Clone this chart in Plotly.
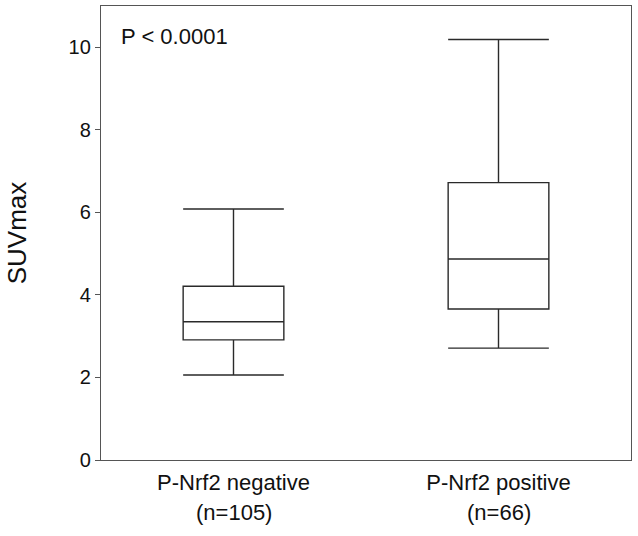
import plotly.graph_objects as go

categories = ["P-Nrf2 negative", "P-Nrf2 positive"]
n_labels = ["(n=105)", "(n=66)"]
q1 = [2.91, 3.66]
median = [3.35, 4.87]
q3 = [4.21, 6.72]
lowerfence = [2.06, 2.71]
upperfence = [6.08, 10.19]
y_ticks = [0, 2, 4, 6, 8, 10]
p_text = "P < 0.0001"

FONT = "Liberation Sans, Arial, Helvetica, sans-serif"
LINE = "#2a2a2a"

fig = go.Figure()
fig.add_trace(go.Box(
    x=categories, q1=q1, median=median, q3=q3,
    lowerfence=lowerfence, upperfence=upperfence,
    fillcolor="white", line=dict(color=LINE, width=1.4),
    whiskerwidth=1, boxpoints=False, showlegend=False, hoverinfo="skip",
))

for cat, n in zip(categories, n_labels):
    fig.add_annotation(x=cat, y=0, xref="x", yref="paper", text=n,
                       showarrow=False, yshift=-52, yanchor="middle",
                       font=dict(family=FONT, size=22, color="#111"))

fig.add_annotation(x=0.04, y=0.955, xref="paper", yref="paper", text=p_text,
                   showarrow=False, xanchor="left", yanchor="middle",
                   xshift=-3, yshift=-10,
                   font=dict(family=FONT, size=22, color="#111"))

fig.update_layout(
    width=638, height=536,
    margin=dict(l=101, r=7, t=6, b=76),
    paper_bgcolor="white", plot_bgcolor="white",
    boxgap=0.62, boxgroupgap=0,
    font=dict(family=FONT, size=18, color="#111"),
)
fig.update_xaxes(
    range=[-0.5, 1.5], showline=True, linecolor="#555", linewidth=1.4,
    mirror=True, ticks="", showgrid=False, zeroline=False,
    ticklabelstandoff=2,
    tickfont=dict(family=FONT, size=22, color="#111"),
)
fig.update_yaxes(
    range=[0, 11], tickvals=y_ticks, ticks="outside", ticklen=5,
    tickcolor="#555", showline=True, linecolor="#555", linewidth=1.4,
    mirror=True, showgrid=False, zeroline=False,
    ticklabelstandoff=0,
    tickfont=dict(family=FONT, size=20, color="#111"),
    title=dict(text="SUVmax", font=dict(family=FONT, size=26, color="#111"),
               standoff=34),
)

fig.write_html("out.html", config={"displayModeBar": False},
               post_script="document.body.style.margin='0px';")
